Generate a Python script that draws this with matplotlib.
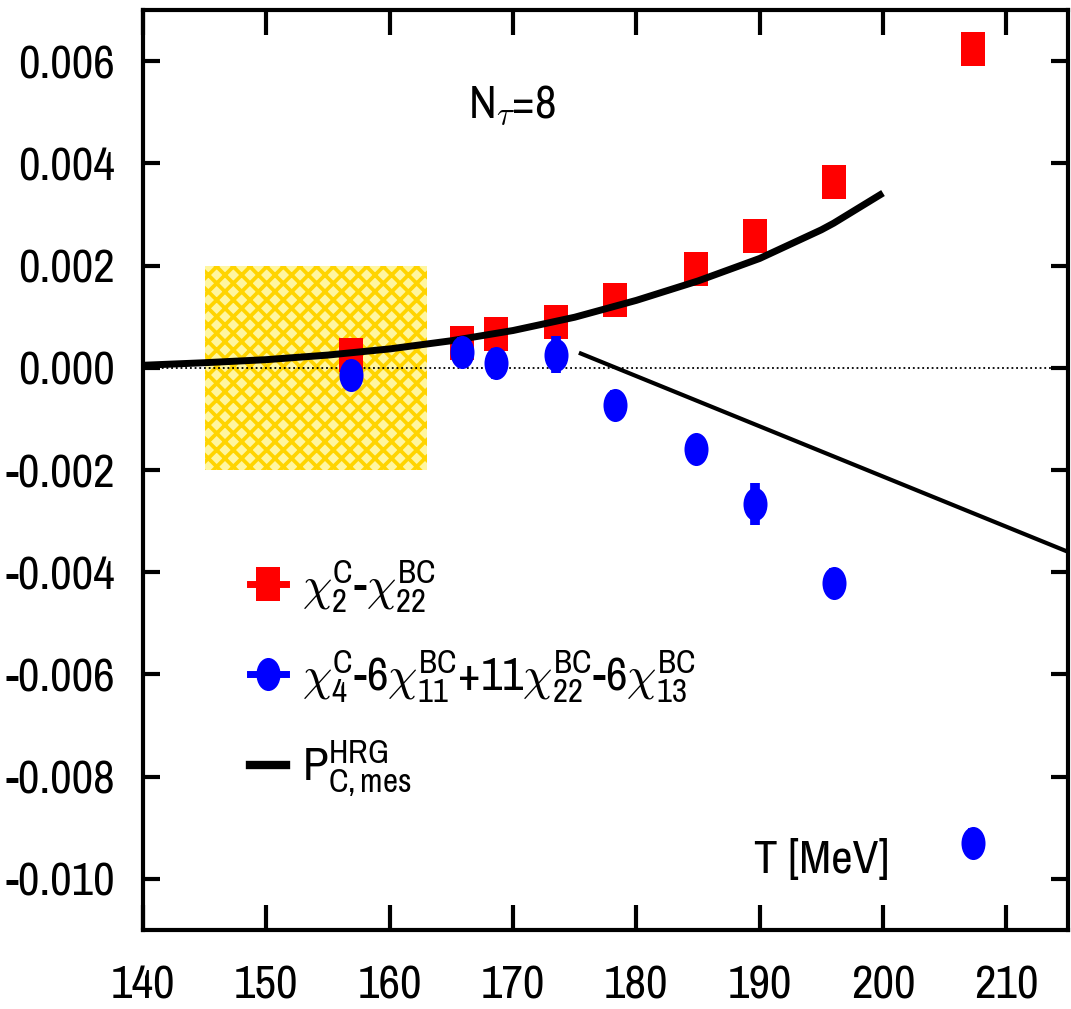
import numpy as np
import matplotlib
matplotlib.use("Agg")
import matplotlib.pyplot as plt
from matplotlib import font_manager as fm
from matplotlib.font_manager import FontProperties
from matplotlib.textpath import TextPath
from matplotlib.path import Path
from matplotlib.patches import Rectangle
from matplotlib.lines import Line2D
from matplotlib.ticker import FuncFormatter

# ---------------- data ----------------
T_red = [156.9, 165.9, 168.6, 173.5, 178.3, 184.8, 189.6, 196.0, 207.3]
y_red = [0.00025, 0.00048, 0.00067, 0.00089, 0.00132, 0.00194, 0.00258, 0.00363, 0.00624]
e_red = [0.0001, 0.0001, 0.0001, 0.0001, 0.0001, 0.0001, 0.0001, 0.0001, 0.0001]

T_blue = [156.9, 165.9, 168.6, 173.5, 178.3, 184.8, 189.6, 196.0, 207.3]
y_blue = [-0.00014, 0.00031, 0.00009, 0.00026, -0.00073, -0.00158, -0.00267, -0.00421, -0.00930]
e_blue = [0.0003, 0.0003, 0.0003, 0.00037, 0.0003, 0.0002, 0.00041, 0.0003, 0.0003]

T_hrg = [140, 145, 150, 155, 160, 165, 170, 175, 180, 185, 190, 195, 196, 200]
y_hrg = [0.00005, 0.00010, 0.00016, 0.00025, 0.00037, 0.00053, 0.00073, 0.00099, 0.00132,
         0.00170, 0.00214, 0.00270, 0.00283, 0.00342]

T_lin = [175.5, 215.0]
y_lin = [0.00028, -0.00360]

box_T = [145.0, 163.0]
box_y = [-0.002, 0.002]

xticks = [140, 150, 160, 170, 180, 190, 200, 210]
yticks = [-0.010, -0.008, -0.006, -0.004, -0.002, 0.000, 0.002, 0.004, 0.006]

lab_red = r'$\chi_2^{C}$-$\chi_{22}^{BC}$'
lab_blue = r'$\chi_4^{C}$-6$\chi_{11}^{BC}$+11$\chi_{22}^{BC}$-6$\chi_{13}^{BC}$'
lab_hrg = r'P$_{C,mes}^{HRG}$'
lab_nt = r'N$_\tau$=8'
lab_T = 'T [MeV]'

# ---------------- font choice (narrow Helvetica-like) ----------------
available = {f.name for f in fm.fontManager.ttflist}
candidates = ['Liberation Sans Narrow', 'Arial Narrow', 'Archivo Narrow', 'PT Sans Narrow',
              'Pragati Narrow', 'Roboto Condensed', 'Arimo', 'Liberation Sans']
font = next((c for c in candidates if c in available), 'DejaVu Sans')
plt.rcParams['font.family'] = [font, 'DejaVu Sans']
plt.rcParams['mathtext.fontset'] = 'custom'
plt.rcParams['mathtext.rm'] = font
plt.rcParams['mathtext.it'] = font
plt.rcParams['mathtext.bf'] = font
plt.rcParams['mathtext.sf'] = font
plt.rcParams['mathtext.default'] = 'rm'
plt.rcParams['hatch.linewidth'] = 2.7

# size the text so that "-0.010" is ~107 px wide (as in the reference)
tp = TextPath((0, 0), '-0.010', size=100, prop=FontProperties(family=font))
w100 = tp.get_extents().width
fs = min(36.0, 107.0 / (w100 / 100.0 * 100.0 / 72.0)) if w100 > 0 else 30.0

# ---------------- markers ----------------
asp = 0.727
sq_marker = Path([(-asp, -1), (asp, -1), (asp, 1), (-asp, 1), (-asp, -1)],
                 [Path.MOVETO, Path.LINETO, Path.LINETO, Path.LINETO, Path.CLOSEPOLY])
uc = Path.unit_circle()
el_marker = Path(uc.vertices * np.array([asp, 1.0]), uc.codes)

fig = plt.figure(figsize=(10.71, 10.09), dpi=100)
ax = fig.add_axes([0.1335, 0.0783, 0.8637, 0.9117])

ax.set_xlim(140, 215)
ax.set_ylim(-0.011, 0.007)

ax.add_patch(Rectangle((box_T[0], box_y[0]), box_T[1] - box_T[0], box_y[1] - box_y[0],
                       facecolor='#FFF6A0', edgecolor='#FFD400', hatch='xx', linewidth=0, zorder=1))

ax.axhline(0.0, color='black', linestyle=(0, (1, 1.6)), linewidth=1.3, zorder=2)

ms = 23.8
ax.errorbar(T_red, y_red, yerr=e_red, fmt='none', ecolor='#FF0000', elinewidth=7, capsize=0, zorder=3)
ax.plot(T_red, y_red, linestyle='none', marker=sq_marker, markersize=ms, color='#FF0000',
        markeredgewidth=0, zorder=3)

ax.plot(T_hrg, y_hrg, color='black', linewidth=5, solid_capstyle='butt', zorder=4)

ax.errorbar(T_blue, y_blue, yerr=e_blue, fmt='none', ecolor='#0000FF', elinewidth=7, capsize=0, zorder=5)
ax.plot(T_blue, y_blue, linestyle='none', marker=el_marker, markersize=ms, color='#0000FF',
        markeredgewidth=0, zorder=5)

ax.plot(T_lin, y_lin, color='black', linewidth=3, zorder=6)

for s in ax.spines.values():
    s.set_linewidth(3)
ax.set_xticks(xticks)
ax.set_yticks(yticks)
ax.yaxis.set_major_formatter(FuncFormatter(lambda v, p: f'{v:.3f}' if abs(v) > 1e-9 else '0.000'))
ax.tick_params(axis='x', which='major', direction='in', length=18, width=3, top=True,
               labelsize=fs, pad=25)
ax.tick_params(axis='y', which='major', direction='in', length=12, width=3, right=True,
               labelsize=fs, pad=20)

ax.text(0.399, 0.897, lab_nt, transform=ax.transAxes, fontsize=fs, ha='center', va='center')
ax.text(0.734, 0.076, lab_T, transform=ax.transAxes, fontsize=fs, ha='center', va='center')

h_red = Line2D([], [], color='#FF0000', marker=sq_marker, markersize=ms, markeredgewidth=0,
               linewidth=5)
h_blue = Line2D([], [], color='#0000FF', marker=el_marker, markersize=ms, markeredgewidth=0,
                linewidth=5)
h_hrg = Line2D([], [], color='black', linewidth=6)
leg = ax.legend([h_red, h_blue, h_hrg], [lab_red, lab_blue, lab_hrg], loc='upper left',
                bbox_to_anchor=(0.095, 0.425), frameon=False, fontsize=fs,
                handlelength=36.0 / (fs * 100 / 72), handletextpad=0.35,
                labelspacing=0.72, borderaxespad=0)

fig.savefig('out.png', dpi=100)
